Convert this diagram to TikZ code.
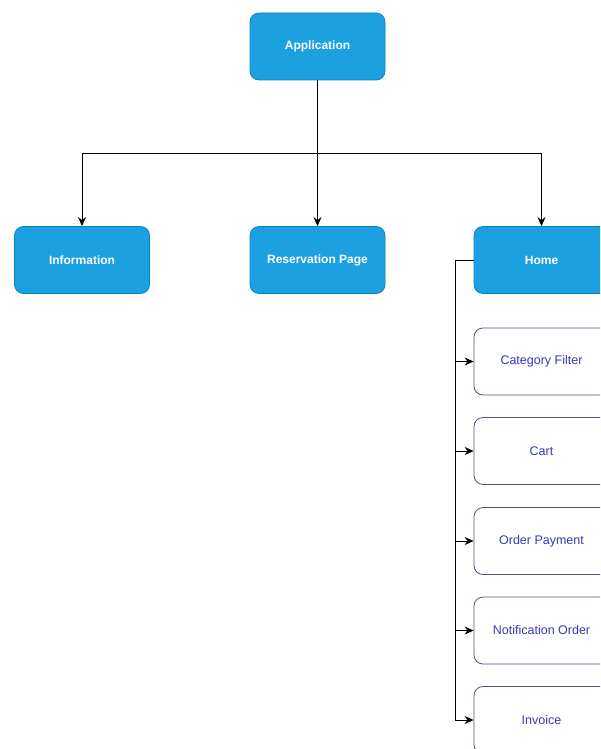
\documentclass[tikz,border=0pt]{standalone}
\usepackage{fontspec}
\setmainfont{Liberation Sans}
\usetikzlibrary{arrows.meta}
\definecolor{bluefill}{HTML}{1BA1E2}
\definecolor{bluestroke}{HTML}{1580B8}
\definecolor{childstroke}{HTML}{56517E}
\definecolor{childtext}{HTML}{3A3AB0}
\begin{document}
\begin{tikzpicture}[x=1pt,y=-1pt,
  main/.style={draw=bluestroke,fill=bluefill,rounded corners=9pt,minimum width=135pt,minimum height=67pt,text=white,font=\fontsize{12}{14}\selectfont\bfseries,line width=0.8pt},
  child/.style={draw=childstroke,fill=white,rounded corners=9pt,minimum width=135pt,minimum height=67pt,text=childtext,font=\fontsize{12.5}{14}\selectfont,line width=0.8pt},
  conn/.style={draw=black,line width=1pt,-{Stealth[length=9pt,width=8pt]}}]
\useasboundingbox (0,0) rectangle (600,749);
\clip (0,0) rectangle (600,749);
\node[main] (app) at (317.5,46.5) {Application};
\node[main] (info) at (82,260) {Information};
\node[main] (res) at (317.5,260) {Reservation Page};
\node[main] (home) at (541.5,260) {Home};
\coordinate (hbar) at (317.5,153);
\draw[line width=1pt] (app.south) -- (hbar);
\draw[conn] (hbar) -| (info.north);
\draw[conn] (app.south) -- (res.north);
\draw[conn] (hbar) -| (home.north);
\node[child] (cf) at (541.5,361.5) {Category Filter};
\node[child] (cart) at (541.5,451) {Cart};
\node[child] (op) at (541.5,541) {Order Payment};
\node[child] (no) at (541.5,630.5) {Notification Order};
\node[child] (inv) at (541.5,720) {Invoice};
\coordinate (trunk) at (455,260);
\draw[line width=1pt] (home.west) -- (trunk);
\foreach \n in {cf,cart,op,no,inv}{
  \draw[conn] (trunk) |- (\n.west);
}
\end{tikzpicture}
\end{document}
